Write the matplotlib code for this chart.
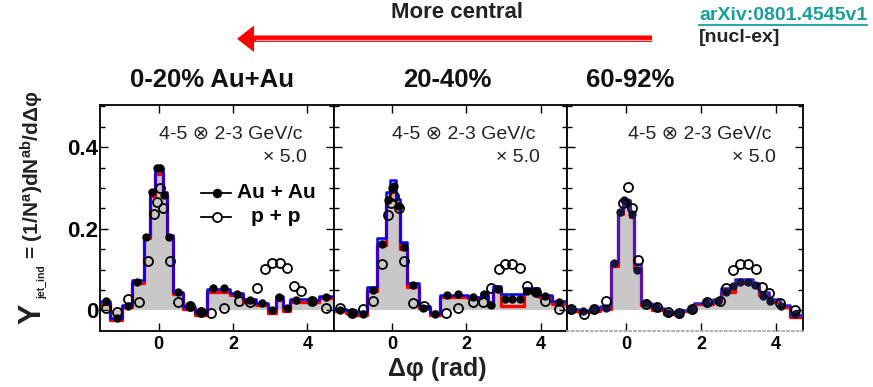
import matplotlib
matplotlib.use("Agg")
import matplotlib.pyplot as plt
from matplotlib.patches import Polygon
from matplotlib.lines import Line2D
from matplotlib.transforms import Affine2D
from matplotlib.ticker import MultipleLocator, FixedLocator
import numpy as np

plt.rcParams['font.family'] = ['Liberation Sans', 'DejaVu Sans']
plt.rcParams['mathtext.fontset'] = 'custom'
plt.rcParams['mathtext.rm'] = 'Liberation Sans'
plt.rcParams['mathtext.bf'] = 'Liberation Sans:bold'
plt.rcParams['mathtext.it'] = 'Liberation Sans:italic'

# ---------------- data ----------------
panel_titles = ["0-20% Au+Au", "20-40%", "60-92%"]
x_ticks = [0, 2, 4]
y_ticks = [0, 0.2, 0.4]
y_tick_labels = ["0", "0.2", "0.4"]

# Panel 1 (0-20%)
p1_edges = [-1.571, -1.29, -0.98, -0.71, -0.40, -0.22, -0.09, 0.13, 0.22, 0.40, 0.67, 0.98,
            1.29, 1.62, 1.91, 2.27, 2.62, 2.93, 3.16, 3.33, 3.54, 4.04, 4.31, 4.712]
p1_upper = [0.022, -0.018, 0.013, 0.075, 0.185, 0.29, 0.35, 0.29, 0.185, 0.046, 0.009, -0.006,
            0.052, 0.052, 0.042, 0.027, 0.019, 0.005, 0.036, 0.008, 0.027, 0.025, 0.035]
p1_lower = [0.016, -0.024, 0.008, 0.068, 0.177, 0.28, 0.335, 0.28, 0.177, 0.040, 0.004, -0.010,
            0.046, 0.046, 0.037, 0.021, 0.013, -0.007, 0.026, -0.001, 0.021, 0.020, 0.030]
p1_aa_x = [-1.42, -1.11, -0.83, -0.57, -0.33, -0.17, -0.04, 0.04, 0.15, 0.29, 0.52, 0.84, 1.14,
           1.45, 1.77, 2.12, 2.45, 2.77, 3.04, 3.24, 3.44, 3.70, 4.12, 4.51]
p1_aa_y = [0.022, -0.018, 0.012, 0.070, 0.180, 0.290, 0.350, 0.350, 0.283, 0.180, 0.045, 0.010, -0.003,
           0.056, 0.055, 0.040, 0.026, 0.019, 0.000, 0.032, 0.005, 0.025, 0.024, 0.032]
p1_pp_x = [-1.42, -1.11, -0.83, -0.53, -0.28, -0.13, -0.04, 0.04, 0.13, 0.31, 0.53, 0.85, 1.14,
           1.42, 1.75, 2.16, 2.46, 2.65, 2.85, 3.04, 3.25, 3.45, 3.63, 3.82, 4.12, 4.51]
p1_pp_y = [0.005, -0.003, 0.028, 0.021, 0.120, 0.236, 0.265, 0.301, 0.250, 0.122, 0.020, 0.010, -0.003,
           -0.006, 0.005, 0.022, 0.021, 0.056, 0.102, 0.117, 0.117, 0.103, 0.061, 0.047, 0.022, 0.005]

# Panel 2 (20-40%)
p2_edges = [-1.571, -1.24, -0.98, -0.68, -0.40, -0.18, -0.06, 0.09, 0.22, 0.40, 0.71, 1.02,
            1.29, 2.04, 2.40, 2.58, 2.71, 2.93, 3.55, 3.95, 4.31, 4.712]
p2_upper = [0.004, 0.000, -0.004, 0.057, 0.177, 0.29, 0.32, 0.272, 0.168, 0.068, 0.012, -0.007,
            0.038, 0.034, 0.042, 0.020, 0.060, 0.040, 0.055, 0.038, 0.022]
p2_lower = [-0.002, -0.006, -0.012, 0.048, 0.160, 0.27, 0.29, 0.250, 0.150, 0.058, 0.006, -0.012,
            0.033, 0.030, 0.036, 0.010, 0.050, 0.012, 0.045, 0.032, 0.016]
p2_aa_x = [-1.40, -1.09, -0.80, -0.52, -0.27, -0.12, -0.01, 0.04, 0.17, 0.31, 0.55, 0.84, 1.15,
           1.47, 1.78, 2.18, 2.48, 2.67, 2.84, 3.04, 3.24, 3.44, 3.64, 3.85, 4.13, 4.51]
p2_aa_y = [0.000, -0.006, -0.008, 0.050, 0.163, 0.270, 0.300, 0.305, 0.255, 0.155, 0.062, 0.006, -0.008,
           0.038, 0.040, 0.034, 0.040, 0.013, 0.052, 0.028, 0.028, 0.028, 0.048, 0.045, 0.036, 0.020]
p2_pp_x = [-1.40, -1.09, -0.80, -0.51, -0.27, -0.11, -0.04, 0.05, 0.18, 0.33, 0.56, 0.86,
           1.45, 1.78, 2.18, 2.46, 2.67, 2.87, 3.05, 3.24, 3.44, 3.64, 3.87, 4.13, 4.51]
p2_pp_y = [0.005, -0.005, 0.003, 0.023, 0.115, 0.234, 0.263, 0.280, 0.252, 0.120, 0.018, 0.010,
           -0.007, 0.005, 0.020, 0.020, 0.056, 0.102, 0.114, 0.114, 0.104, 0.061, 0.046, 0.022, 0.004]

# Panel 3 (60-92%)
p3_edges = [-1.571, -1.24, -0.95, -0.68, -0.40, -0.22, -0.08, 0.10, 0.22, 0.40, 0.70, 1.00,
            1.35, 1.82, 2.31, 2.53, 2.89, 3.38, 3.54, 3.82, 4.09, 4.36, 4.712]
p3_upper = [0.003, 0.002, 0.004, 0.010, 0.118, 0.245, 0.270, 0.240, 0.115, 0.018, 0.006, -0.004,
            0.002, 0.019, 0.027, 0.054, 0.077, 0.068, 0.045, 0.027, 0.013, -0.012]
p3_lower = [-0.002, -0.003, -0.001, 0.004, 0.110, 0.235, 0.260, 0.230, 0.105, 0.013, 0.002, -0.008,
            -0.002, 0.015, 0.022, 0.046, 0.068, 0.060, 0.038, 0.021, 0.008, -0.016]
p3_aa_x = [-1.47, -1.15, -0.85, -0.53, -0.31, -0.15, -0.05, 0.03, 0.15, 0.30, 0.53, 0.80, 1.13,
           1.42, 1.74, 2.14, 2.44, 2.67, 2.86, 3.04, 3.24, 3.44, 3.64, 3.84, 4.12, 4.49]
p3_aa_y = [0.003, -0.002, 0.003, 0.006, 0.116, 0.240, 0.270, 0.265, 0.235, 0.100, 0.018, 0.008, -0.007,
           -0.008, 0.004, 0.020, 0.022, 0.046, 0.060, 0.070, 0.070, 0.062, 0.036, 0.023, 0.010, -0.009]
p3_pp_x = [-1.47, -1.13, -0.85, -0.53, -0.09, 0.04, 0.16, 0.31, 0.53, 0.82, 1.13, 1.42, 1.75,
           2.15, 2.49, 2.67, 2.84, 3.04, 3.24, 3.45, 3.63, 3.82, 4.10, 4.51]
p3_pp_y = [0.004, -0.008, 0.004, 0.022, 0.263, 0.303, 0.250, 0.124, 0.015, 0.008, -0.003, -0.005, 0.004,
           0.020, 0.022, 0.054, 0.098, 0.114, 0.114, 0.101, 0.058, 0.044, 0.019, 0.001]

aa_err = 0.008  # typical stat. error on Au+Au points

panels = [
    (p1_edges, p1_upper, p1_lower, p1_aa_x, p1_aa_y, p1_pp_x, p1_pp_y),
    (p2_edges, p2_upper, p2_lower, p2_aa_x, p2_aa_y, p2_pp_x, p2_pp_y),
    (p3_edges, p3_upper, p3_lower, p3_aa_x, p3_aa_y, p3_pp_x, p3_pp_y),
]

# ---------------- layout ----------------
W, H = 873, 387
fig = plt.figure(figsize=(W / 100, H / 100), dpi=100)

ax_left = [100, 334, 567]
ax_right = [334, 567, 803]
ax_top, ax_bot = 105, 330.5

aa_color = ['black', 'black', '#14143c']
blue_c = ['#0000ff', '#0000ff', '#2a1fd6']

axes = []
for i, (edges, up, lo, ax_, ay_, px_, py_) in enumerate(panels):
    l, r = ax_left[i], ax_right[i]
    ax = fig.add_axes([l / W, 1 - ax_bot / H, (r - l) / W, (ax_bot - ax_top) / H])
    axes.append(ax)
    e = np.array(edges)
    u = np.append(up, up[-1])
    lw_ = np.append(lo, lo[-1])
    ax.fill_between(e, 0, u, step='post', color='#c8c8c8', lw=0, zorder=1)
    ax.step(e, lw_, where='post', color='#ff0000', lw=2.4, zorder=2)
    ax.step(e, u, where='post', color=blue_c[i], lw=1.8, zorder=3)
    ax.errorbar(ax_, ay_, yerr=aa_err, fmt='o', ms=5, color=aa_color[i], mec=aa_color[i],
                elinewidth=1.0, capsize=0, zorder=5)
    ax.plot(px_, py_, 'o', ms=6.5, mfc='none', mec='black', mew=1.3, zorder=6)

    ax.set_xlim(-np.pi / 2, 3 * np.pi / 2)
    ax.set_ylim(-0.049, 0.503)
    ax.xaxis.set_major_locator(FixedLocator(x_ticks))
    ax.yaxis.set_major_locator(FixedLocator(y_ticks))
    ax.yaxis.set_minor_locator(MultipleLocator(0.05))
    ax.tick_params(which='both', direction='in', top=True, right=True, width=1.0)
    ax.tick_params(which='major', length=6)
    ax.tick_params(which='minor', length=3.5)
    ax.tick_params(axis='x', pad=4)
    ax.set_xticklabels([str(t) for t in x_ticks], fontweight='bold', fontsize=13)
    if i == 0:
        ax.set_yticklabels(y_tick_labels, fontweight='bold', fontsize=16)
        ax.tick_params(axis='y', pad=1)
    else:
        ax.set_yticklabels([])
    for s in ax.spines.values():
        s.set_linewidth(1.3)
    if i == 2:
        ax.spines['bottom'].set_color('#aaaaaa')
        ax.spines['bottom'].set_linestyle(':')

    # annotation
    ax.text(1 - 32 / (r - l), (ax_bot - 134) / (ax_bot - ax_top), "4-5 \u2297 2-3 GeV/c",
            transform=ax.transAxes, ha='right', va='center', fontsize=14, color='#222222')
    ax.text(1 - 27 / (r - l), (ax_bot - 157) / (ax_bot - ax_top), "\u00d7 5.0",
            transform=ax.transAxes, ha='right', va='center', fontsize=14, color='#222222')

# legend in panel 1 (manual)
ax1 = axes[0]
def afr(xp, yp, i=0):
    l, r = ax_left[i], ax_right[i]
    return (xp - l) / (r - l), (ax_bot - yp) / (ax_bot - ax_top)

for yy, filled, lab in [(193, True, "Au + Au"), (217, False, "p + p")]:
    x0, y0 = afr(201, yy)
    x1, _ = afr(231, yy)
    xm, _ = afr(216.5, yy)
    ax1.add_line(Line2D([x0, x1], [y0, y0], color='black', lw=1.3, transform=ax1.transAxes, zorder=7))
    ax1.add_line(Line2D([xm], [y0], marker='o', ms=5.5 if filled else 6.5,
                        mfc='black' if filled else 'white', mec='black', mew=1.3,
                        transform=ax1.transAxes, zorder=8))
    xt, _ = afr(276, yy)
    ax1.text(xt, y0, lab, transform=ax1.transAxes, ha='center', va='center',
             fontsize=15, fontweight='bold')

# ---------------- figure texts ----------------
def fpos(x, y):
    return x / W, 1 - y / H

fig.text(*fpos(457, 13), "More central", ha='center', va='center', fontsize=16, fontweight='bold',
         color='#222222')
t_arx = fig.text(*fpos(699, 15), "arXiv:0801.4545v1", ha='left', va='center', fontsize=14,
                 fontweight='bold', color='#1a9e9a')
fig.text(*fpos(699, 38), "[nucl-ex]", ha='left', va='center', fontsize=14, fontweight='bold',
         color='#222222')

for xc, t in zip([212, 447, 630], panel_titles):
    fig.text(*fpos(xc, 80), t, ha='center', va='center', fontsize=18.5, fontweight='bold',
             color='#111111')

fig.text(*fpos(437, 369), "\u0394\u03c6 (rad)", ha='center', va='center', fontsize=18,
         fontweight='bold', color='#222222')

# arrow
tr = Affine2D().scale(1 / W, -1 / H).translate(0, 1) + fig.transFigure
arrow_pts = [(652, 35.5), (254, 35.5), (254, 25.5), (237, 38.8), (254, 52), (254, 42), (652, 42)]
fig.patches.append(Polygon(arrow_pts, closed=True, facecolor='#ff0000', edgecolor='none',
                           transform=tr, figure=fig))
fig.lines.append(Line2D([256, 652], [40.2, 40.2], color='#ffb0b0', lw=0.9, transform=tr, figure=fig))

# y label in pieces
fig.text(*fpos(40, 324), "Y", rotation=90, rotation_mode='anchor', ha='left', va='baseline',
         fontsize=22, fontweight='bold', color='#222222')
fig.text(*fpos(45, 299), "jet_ind", rotation=90, rotation_mode='anchor', ha='left',
         va='baseline', fontsize=7.5, fontweight='bold', color='#222222')
fig.text(*fpos(40, 259), "= (1/N$^{\\mathbf{a}}$)dN$^{\\mathbf{ab}}$/d\u0394\u03c6", rotation=90,
         rotation_mode='anchor', ha='left', va='baseline', fontsize=15, fontweight='bold',
         color='#222222')

# underline for arXiv link
fig.canvas.draw()
bb = t_arx.get_window_extent(renderer=fig.canvas.get_renderer())
fig.lines.append(Line2D([bb.x0 / W, bb.x1 / W], [(bb.y0 - 1) / H, (bb.y0 - 1) / H],
                        color='#1a9e9a', lw=1.3, transform=fig.transFigure, figure=fig))

fig.savefig("out.png", dpi=100)
